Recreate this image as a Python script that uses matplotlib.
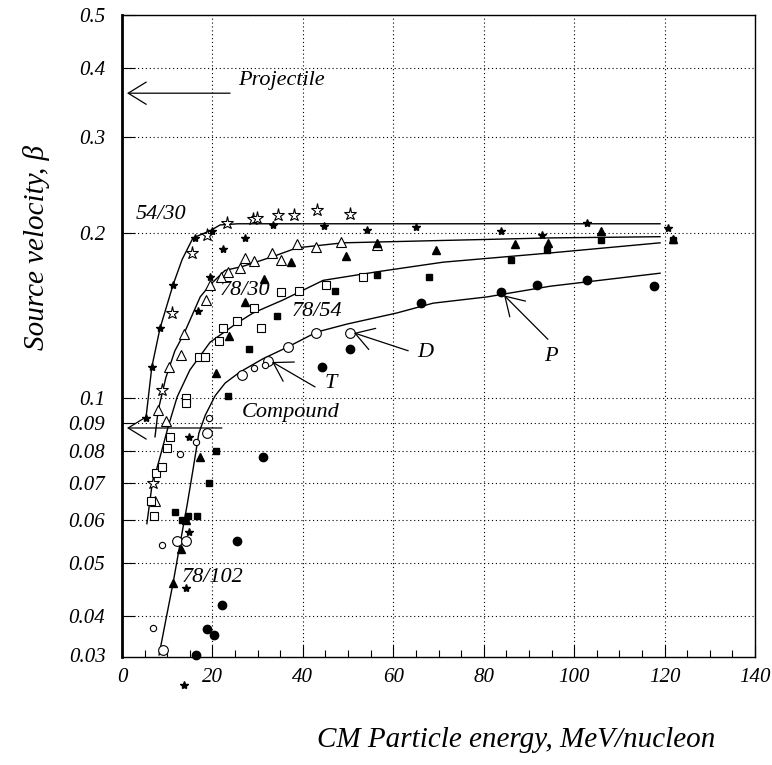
import matplotlib
matplotlib.use('Agg')
import matplotlib.pyplot as plt
from matplotlib.ticker import FixedLocator, FixedFormatter, MultipleLocator, NullLocator

plt.rcParams['font.family'] = ['Liberation Serif', 'DejaVu Serif']

# ---------------- data ----------------
# open stars
ostar_x = [6.9, 8.8, 11.1, 15.5, 18.8, 23.2, 29.0, 29.9, 34.5, 38.1, 43.1, 50.4]
ostar_y = [0.070, 0.1035, 0.143, 0.184, 0.198, 0.209, 0.212, 0.213, 0.216, 0.216, 0.220, 0.217]
# filled stars
fstar_x = [5.3, 6.6, 8.4, 11.3, 16.2, 19.9, 16.8, 19.5, 22.3, 27.2, 33.4, 44.7, 54.2, 65.0,
           83.8, 92.9, 102.9, 120.8, 14.8, 14.8, 14.2, 13.7]
fstar_y = [0.092, 0.114, 0.134, 0.161, 0.196, 0.202, 0.144, 0.166, 0.187, 0.196, 0.207, 0.206,
           0.203, 0.205, 0.202, 0.198, 0.209, 0.204, 0.085, 0.057, 0.045, 0.030]
# open triangles
otri_x = [7.3, 8.0, 9.7, 10.4, 13.1, 13.7, 18.6, 19.5, 21.9, 23.5, 26.1, 27.2, 29.2, 33.2,
          35.2, 38.7, 42.9, 48.5, 56.4]
otri_y = [0.065, 0.095, 0.091, 0.114, 0.120, 0.131, 0.151, 0.161, 0.166, 0.170, 0.173, 0.180,
          0.178, 0.184, 0.179, 0.191, 0.189, 0.193, 0.190]
# filled triangles
ftri_x = [11.3, 13.1, 14.2, 17.3, 20.8, 23.7, 27.2, 31.4, 37.4, 49.6, 56.4, 69.5, 86.9, 94.2,
          106.0, 121.9]
ftri_y = [0.046, 0.053, 0.060, 0.078, 0.111, 0.130, 0.150, 0.165, 0.177, 0.182, 0.192, 0.186,
          0.191, 0.192, 0.202, 0.195]
# open squares
osq_x = [6.4, 7.1, 7.5, 8.8, 10.0, 10.6, 14.2, 14.2, 17.0, 18.4, 21.5, 22.3, 25.4, 29.2, 30.8,
         35.2, 39.2, 45.1, 53.3]
osq_y = [0.065, 0.061, 0.073, 0.075, 0.081, 0.085, 0.100, 0.098, 0.119, 0.119, 0.127, 0.134,
         0.138, 0.146, 0.134, 0.156, 0.157, 0.161, 0.166]
# filled squares
fsq_x = [11.7, 13.3, 14.6, 16.6, 19.2, 20.8, 23.5, 28.1, 34.3, 47.1, 56.4, 67.9, 86.1, 94.0,
         106.0, 121.9]
fsq_y = [0.062, 0.060, 0.061, 0.061, 0.070, 0.080, 0.101, 0.123, 0.141, 0.157, 0.168, 0.166,
         0.179, 0.186, 0.194, 0.194]
# open circles (large)
ocirc_x = [9.1, 12.2, 14.2, 18.8, 26.5, 32.3, 36.7, 42.9, 50.4]
ocirc_y = [0.0347, 0.0549, 0.0549, 0.0863, 0.110, 0.117, 0.124, 0.1315, 0.1315]
# open circles (small)
socirc_x = [6.9, 8.8, 12.8, 16.4, 19.2, 29.2, 31.6]
socirc_y = [0.038, 0.054, 0.079, 0.083, 0.092, 0.1135, 0.115]
# filled circles
fcirc_x = [16.4, 18.8, 20.4, 22.1, 25.4, 31.2, 44.2, 50.4, 66.2, 83.8, 91.8, 102.9, 117.7]
fcirc_y = [0.034, 0.0379, 0.037, 0.0419, 0.0549, 0.078, 0.114, 0.123, 0.149, 0.156, 0.161,
           0.164, 0.160]

# fitted curves
fit_5430_x = [5.3, 6.6, 8.4, 11.3, 13.3, 15.7, 19.5, 21.7, 25.7, 37.6, 119.0]
fit_5430_y = [0.092, 0.114, 0.134, 0.161, 0.179, 0.196, 0.202, 0.207, 0.208, 0.208, 0.208]
fit_7830_x = [7.3, 8.0, 9.7, 11.7, 13.7, 17.3, 19.5, 22.8, 26.8, 33.2, 38.7, 48.9, 94.7, 119.0]
fit_7830_y = [0.085, 0.095, 0.109, 0.122, 0.131, 0.153, 0.161, 0.171, 0.174, 0.181, 0.188,
              0.192, 0.196, 0.197]
fit_7854_x = [5.5, 6.6, 8.4, 10.2, 12.2, 15.0, 19.5, 25.4, 29.0, 35.6, 44.5, 56.4, 71.0, 94.7, 119.0]
fit_7854_y = [0.059, 0.069, 0.078, 0.0886, 0.1005, 0.1125, 0.1265, 0.137, 0.143, 0.151, 0.164,
              0.170, 0.177, 0.184, 0.192]
fit_78102_x = [8.2, 9.7, 11.3, 12.8, 14.4, 15.7, 17.0, 18.4, 20.6, 22.8, 26.1, 31.2, 36.7, 43.1,
               49.8, 60.8, 68.8, 80.8, 94.7, 119.0]
fit_78102_y = [0.034, 0.0394, 0.046, 0.054, 0.0638, 0.074, 0.0863, 0.093, 0.101, 0.1065, 0.1116,
               0.118, 0.124, 0.132, 0.1365, 0.143, 0.149, 0.153, 0.160, 0.169]

xticks = [0, 20, 40, 60, 80, 100, 120, 140]
yticks = [0.04, 0.05, 0.06, 0.07, 0.08, 0.09, 0.1, 0.2, 0.3, 0.4, 0.5]
ytick_labels = ['0.04', '0.05', '0.06', '0.07', '0.08', '0.09', '0.1', '0.2', '0.3', '0.4', '0.5']

# ---------------- figure ----------------
W, H = 772, 765
fig = plt.figure(figsize=(W / 100, H / 100), dpi=100)
ax = fig.add_axes([122 / W, 1 - 657 / H, (755 - 122) / W, (657 - 15) / H])
ax.set_yscale('log')
ax.set_xlim(0, 140)
ax.set_ylim(0.0337, 0.5)

ax.xaxis.set_major_locator(FixedLocator(xticks))
ax.xaxis.set_minor_locator(MultipleLocator(5))
ax.yaxis.set_major_locator(FixedLocator(yticks))
ax.yaxis.set_major_formatter(FixedFormatter(ytick_labels))
ax.yaxis.set_minor_locator(NullLocator())
ax.set_xticklabels([str(v) for v in xticks])

tick_font = dict(family='Liberation Serif', style='italic', size=15)
for lab in ax.get_xticklabels() + ax.get_yticklabels():
    lab.set_fontstyle('italic')
    lab.set_fontsize(15)
ax.tick_params(axis='both', which='major', direction='in', length=9, width=0.8, pad=8)
ax.tick_params(axis='x', which='minor', direction='in', length=5, width=0.8)
ax.tick_params(axis='y', which='major', pad=12)

ax.grid(True, which='major', linestyle=(0, (1, 2.5)), color='black', linewidth=0.8)
for s in ax.spines.values():
    s.set_linewidth(1.0)
ax.spines['left'].set_linewidth(2.0)

ax.text(-0.025, 0.0, '0.03', transform=ax.transAxes, ha='right', va='center', **tick_font)

# fit curves
for fx, fy in [(fit_5430_x, fit_5430_y), (fit_7830_x, fit_7830_y),
               (fit_7854_x, fit_7854_y), (fit_78102_x, fit_78102_y)]:
    ax.plot(fx, fy, color='black', lw=1.0, zorder=3)

mk = dict(linestyle='none', clip_on=False, zorder=4)
ax.plot(ostar_x, ostar_y, marker='*', ms=9.5, mfc='white', mec='black', mew=0.8, **mk)
ax.plot(fstar_x, fstar_y, marker='*', ms=6, color='black', **mk)
ax.plot(otri_x, otri_y, marker='^', ms=7.5, mfc='white', mec='black', mew=0.8, **mk)
ax.plot(ftri_x, ftri_y, marker='^', ms=6, color='black', **mk)
ax.plot(osq_x, osq_y, marker='s', ms=6, mfc='white', mec='black', mew=0.8, **mk)
ax.plot(fsq_x, fsq_y, marker='s', ms=5, color='black', **mk)
ax.plot(ocirc_x, ocirc_y, marker='o', ms=7, mfc='white', mec='black', mew=0.8, **mk)
ax.plot(socirc_x, socirc_y, marker='o', ms=4.5, mfc='white', mec='black', mew=0.8, **mk)
ax.plot(fcirc_x, fcirc_y, marker='o', ms=6, color='black', **mk)

# annotations
ann_font = dict(family='Liberation Serif', style='italic', size=16)
arrow = dict(arrowstyle='->,head_length=0.65,head_width=0.4', lw=0.9, color='black',
             shrinkA=0, shrinkB=0, mutation_scale=20)
ax.annotate('', xy=(1.1, 0.360), xytext=(23.9, 0.360), arrowprops=arrow, zorder=5)
ax.text(25.7, 0.380, 'Projectile', ha='left', va='center', **ann_font)
ax.annotate('', xy=(1.1, 0.0882), xytext=(22.1, 0.0882), arrowprops=arrow, zorder=5)
ax.text(26.5, 0.0943, 'Compound', ha='left', va='center', **ann_font)

ax.text(3.1, 0.216, '54/30', ha='left', va='center', **ann_font)
ax.text(21.7, 0.157, '78/30', ha='left', va='center', **ann_font)
ax.text(37.6, 0.1436, '78/54', ha='left', va='center', **ann_font)
ax.text(13.1, 0.0471, '78/102', ha='left', va='center', **ann_font)

ax.annotate('', xy=(33.2, 0.1164), xytext=(42.7, 0.1048), arrowprops=arrow, zorder=5)
ax.text(46.2, 0.1065, 'T', ha='center', va='center', **ann_font)
ax.annotate('', xy=(51.3, 0.1315), xytext=(63.3, 0.122), arrowprops=arrow, zorder=5)
ax.text(67.0, 0.121, 'D', ha='center', va='center', **ann_font)
ax.annotate('', xy=(84.5, 0.154), xytext=(94.2, 0.128), arrowprops=arrow, zorder=5)
ax.text(94.9, 0.119, 'P', ha='center', va='center', **ann_font)

# axis titles
fig.text(715 / W, 1 - 740 / H, 'CM Particle energy, MeV/nucleon', ha='right', va='center',
         family='Liberation Serif', style='italic', size=21)
fig.text(37 / W, 1 - 248 / H, 'Source velocity, β', ha='center', va='center', rotation=90,
         family='Liberation Serif', style='italic', size=21)

fig.savefig('out.png', dpi=100)
